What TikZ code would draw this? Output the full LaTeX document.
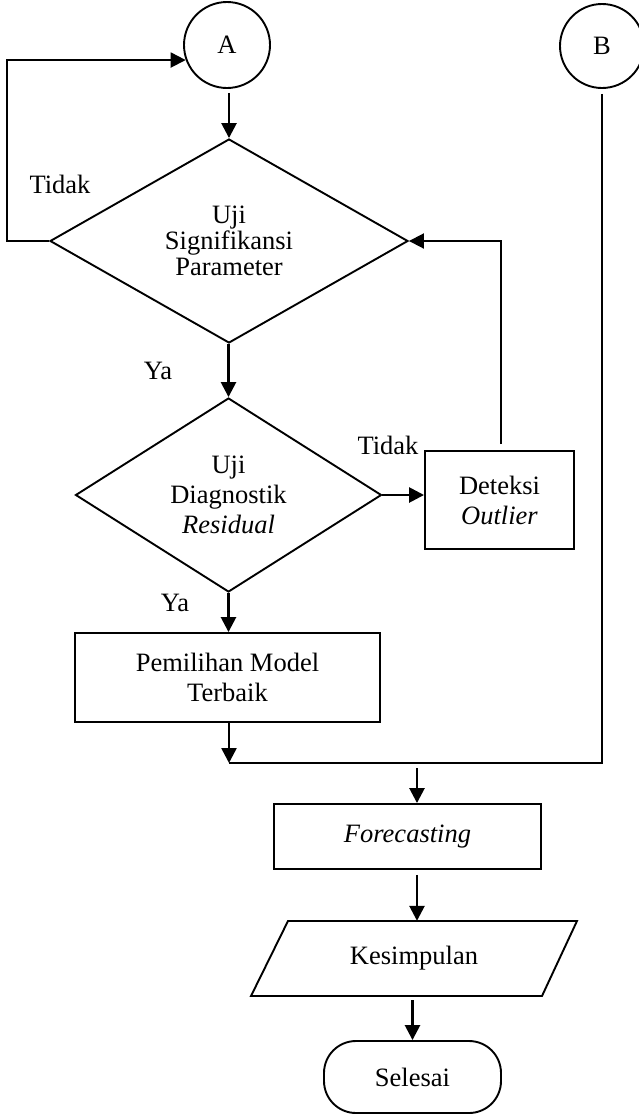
\documentclass[tikz,border=0pt]{standalone}
\usepackage{fontspec}
\setmainfont{Liberation Serif}
\usetikzlibrary{arrows.meta,shapes.geometric,calc}
\begin{document}
\begin{tikzpicture}[x=1pt,y=-1pt,
  every node/.style={font=\fontsize{26.5}{30}\selectfont},
  shp/.style={draw,line width=1.9pt,inner sep=0pt,align=center},
  circ/.style={shp,circle},
  dia/.style={shp,diamond},
  boxx/.style={shp,rectangle},
  term/.style={shp,rectangle,rounded corners=32pt},
  lbl/.style={inner sep=0pt},
  arr/.style={line width=2.6pt,-{Triangle[length=15pt,width=15pt]}},
  arrt/.style={line width=1.9pt,-{Triangle[length=15pt,width=15pt]}},
  ln/.style={line width=1.9pt}
]
\useasboundingbox (0,0) rectangle (639,1114);

\node[circ,minimum size=86pt] (A) at (227,45) {A};
\node[circ,minimum size=84pt] (B) at (602,46) {B};

\node[dia,minimum width=358pt,minimum height=204pt,shape aspect=1.75,
      font=\fontsize{26.5}{26}\selectfont] (d1) at (229,241) {Uji\\Signifikansi\\Parameter};
\node[dia,minimum width=306pt,minimum height=194pt,shape aspect=1.58] (d2) at (228.5,495)
      {Uji\\Diagnostik\\\textit{Residual}};

\node[boxx,minimum width=149pt,minimum height=98pt] (det) at (499.5,500) {Deteksi\\\textit{Outlier}};
\node[boxx,minimum width=305pt,minimum height=89pt] (pm) at (227.5,677.5) {Pemilihan Model\\Terbaik};
\node[boxx,minimum width=267pt,minimum height=65pt] (fc) at (407.5,836.5) {\textit{Forecasting}};

\node[lbl,minimum height=75pt] (kes) at (414,958.5) {Kesimpulan};
\draw[ln] (288,921) -- (577,921) -- (542,996) -- (251,996) -- cycle;

\node[term,minimum width=177pt,minimum height=72pt] (sel) at (412.5,1077) {Selesai};

\coordinate (J) at (229,763);

% labels
\node[lbl] (t1) at (60,184) {Tidak};
\node[lbl] (y1) at (158,371) {Ya};
\node[lbl] (t2) at (388,445) {Tidak};
\node[lbl] (y2) at (175,603) {Ya};

% connectors
\draw[arr,shorten <=4pt] (d1.north |- A.south) -- (d1.north);
\draw[arrt] (d1.west) -- ++(-42,0) |- (A.200);
\draw[arr] (d2.north |- d1.south) -- (d2.north);
\draw[arr] (d2.east) -- (d2.east -| det.west);
\draw[arrt,shorten <=6pt] ([xshift=1.5pt]det.north) |- (d1.east);
\draw[arr] (d2.south) -- (d2.south |- pm.north);
\draw[arr] (J |- pm.south) -- (J);
\draw[ln,shorten <=5pt] (B.south) |- (J);
\draw[arr,shorten <=5pt] ([xshift=9.5pt]fc.north |- J) -- ([xshift=9.5pt]fc.north);
\draw[arr,shorten <=5pt] ([xshift=9.5pt]fc.south) -- ([xshift=9.5pt]fc.south |- kes.north);
\draw[arr,shorten <=4pt] (sel.north |- kes.south) -- (sel.north);
\end{tikzpicture}
\end{document}
